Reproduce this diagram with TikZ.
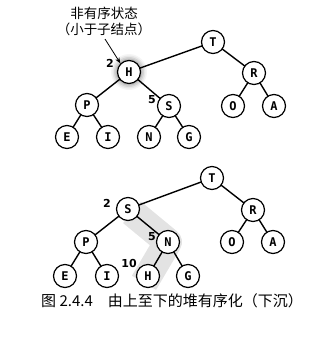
\documentclass[tikz,border=0pt]{standalone}
\usepackage{fontspec}
\setsansfont{DejaVu Sans}
\setmonofont{DejaVu Sans Mono}
\newfontfamily\cjk{Noto Sans CJK SC}
\usetikzlibrary{calc, arrows.meta}

\tikzset{
    heapnode/.style={circle, draw=black, line width=1.2pt, fill=white, minimum size=23pt, inner sep=0pt,
        font=\ttfamily\bfseries\fontsize{12}{12}\selectfont},
    idx/.style={font=\sffamily\bfseries\fontsize{11}{11}\selectfont},
    heapedge/.style={draw=black, line width=1.4pt}
}

\begin{document}
\begin{tikzpicture}[x=1pt,y=-1pt]
    \useasboundingbox (0,0) rectangle (325,341);

    % upper tree: H out of order
    \foreach \n/\x/\y in
    {T/213/42, H/129/72, R/254/73, P/87/105, S/169/106, O/233/106, A/274/106,
        E/67/137, I/108/137, N/149/137, G/189/137}
    {
        \coordinate (u\n) at (\x,\y);
    };
    % soft halo round H
    \foreach \r/\o in {18/0.08, 16.5/0.12, 15/0.18, 13.5/0.25}
    {
        \fill[gray, opacity=\o] (uH) circle (\r);
    };
    \draw[heapedge] (uT) -- (uH) (uT) -- (uR)
    (uH) -- (uP) (uH) -- (uS) (uR) -- (uO) (uR) -- (uA)
    (uP) -- (uE) (uP) -- (uI) (uS) -- (uN) (uS) -- (uG);
    \foreach \n in {T,H,R,P,S,O,A,E,I,N,G}
    {
        \node[heapnode] (nu\n) at (u\n) {\n};
    };
    \node[idx] (iu2) at (110,63) {2};
    \node[idx] (iu5) at (152,100) {5};
    \node[font=\cjk\fontsize{13.5}{16}\selectfont, align=center] (note) at (104,21)
    {非有序状态\\（小于子结点）};
    \draw[line width=0.8pt, -{Stealth[length=6pt,width=4.5pt]}] (105,39) -- (nuH.north west);

    % lower tree: after sinking H
    \foreach \n/\x/\y in
    {T/212/178, S/128/209, R/253/210, P/86/242, N/168/242, O/232/242, A/273/242,
        E/65/276, I/107/276, H/148/276, G/188/276}
    {
        \coordinate (d\n) at (\x,\y);
    };
    % path of the key down the tree
    \draw[gray!22, line width=28pt, line join=round]
    ($(dS)!0.1!(dN)$) -- (dN) -- ($(dN)!1.2!(dH)$);
    \draw[heapedge] (dT) -- (dS) (dT) -- (dR)
    (dS) -- (dP) (dS) -- (dN) (dR) -- (dO) (dR) -- (dA)
    (dP) -- (dE) (dP) -- (dI) (dN) -- (dH) (dN) -- (dG);
    \foreach \n in {T,S,R,P,N,O,A,E,I,H,G}
    {
        \node[heapnode] (nd\n) at (d\n) {\n};
    };
    \node[idx] (id2) at (107,203) {2};
    \node[idx] (id5) at (152,237) {5};
    \node[idx] (id10) at (129,263) {10};

    \node[font=\cjk\fontsize{15}{15}\selectfont] (caption) at (172,301)
    {图 2.4.4\quad 由上至下的堆有序化（下沉）};
\end{tikzpicture}
\end{document}
